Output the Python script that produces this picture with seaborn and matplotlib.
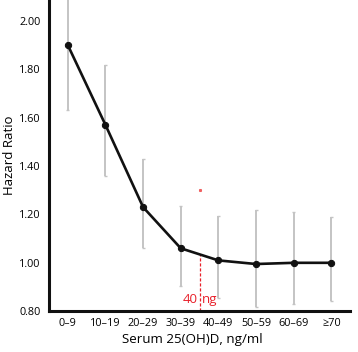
import numpy as np
import pandas as pd
import matplotlib
matplotlib.use("Agg")
import matplotlib.pyplot as plt
import seaborn as sns

categories = ["0\u20139", "10\u201319", "20\u201329", "30\u201339", "40\u201349",
              "50\u201359", "60\u201369", "\u226570"]
hazard_ratio = [1.90, 1.57, 1.23, 1.06, 1.01, 0.995, 1.00, 1.00]
ci_lower = [1.63, 1.36, 1.06, 0.905, 0.855, 0.817, 0.828, 0.844]
ci_upper = [2.20, 1.82, 1.43, 1.235, 1.193, 1.217, 1.209, 1.188]
cutoff_label = "40 ng"

df = pd.DataFrame({"pos": np.arange(len(categories)), "hr": hazard_ratio,
                   "lo": ci_lower, "hi": ci_upper})

sns.set_style("white")
plt.rcParams['font.family'] = ['Open Sans', 'DejaVu Sans']

fig = plt.figure(figsize=(3.58, 3.52), dpi=100)
ax = fig.add_axes([0.137, 0.116, 0.841, 0.884])

# confidence intervals
ax.vlines(df["pos"], df["lo"], df["hi"], color="#c4c4c4", lw=1.4, zorder=1)
ax.hlines(df["lo"], df["pos"] - 0.04, df["pos"] + 0.04, color="#c4c4c4", lw=1.0, zorder=1)
ax.hlines(df["hi"], df["pos"] - 0.04, df["pos"] + 0.04, color="#c4c4c4", lw=1.0, zorder=1)

sns.lineplot(data=df, x="pos", y="hr", ax=ax, color="#111111", lw=1.9,
             marker="o", markersize=4.5, markeredgecolor="#111111", zorder=3)

# 40 ng cutoff
cut_y = np.interp(3.5, df["pos"], df["hr"])
ax.vlines(3.5, 0.80, cut_y, color="#e8202a", lw=0.9, linestyles=(0, (2.5, 1.5)), zorder=2)
ax.text(3.45, 0.823, "40", color="#e8202a", fontsize=9.5, ha="right", va="bottom")
ax.text(3.55, 0.823, "ng", color="#e8202a", fontsize=9.5, ha="left", va="bottom")
ax.plot([3.5], [1.30], marker="s", markersize=1.2, color="#f06060", lw=0)

ax.set_xlim(-0.5, 7.5)
ax.set_ylim(0.80, 2.087)
ax.set_yticks([0.80, 1.00, 1.20, 1.40, 1.60, 1.80, 2.00])
ax.set_yticklabels([f"{v:.2f}" for v in [0.80, 1.00, 1.20, 1.40, 1.60, 1.80, 2.00]])
ax.set_xticks(df["pos"])
ax.set_xticklabels(categories)
ax.set_xticks(np.arange(0.5, 7.5, 1.0), minor=True)
ax.tick_params(axis="x", which="major", length=0, labelsize=7.8, pad=5, labelcolor="black")
ax.tick_params(axis="x", which="minor", length=3, width=0.8, direction="in")
ax.tick_params(axis="y", length=3, width=0.8, direction="out", labelsize=7.8, pad=3,
               labelcolor="black")

for side in ["top", "right"]:
    ax.spines[side].set_visible(False)
for side in ["left", "bottom"]:
    ax.spines[side].set_linewidth(2.2)
    ax.spines[side].set_color("#111111")

ax.set_xlabel("Serum 25(OH)D, ng/ml", fontsize=9.6, labelpad=3, color="black", x=0.477)
ax.set_ylabel("Hazard Ratio", fontsize=9.5, labelpad=2, color="black")

fig.savefig("out.png", dpi=100)
